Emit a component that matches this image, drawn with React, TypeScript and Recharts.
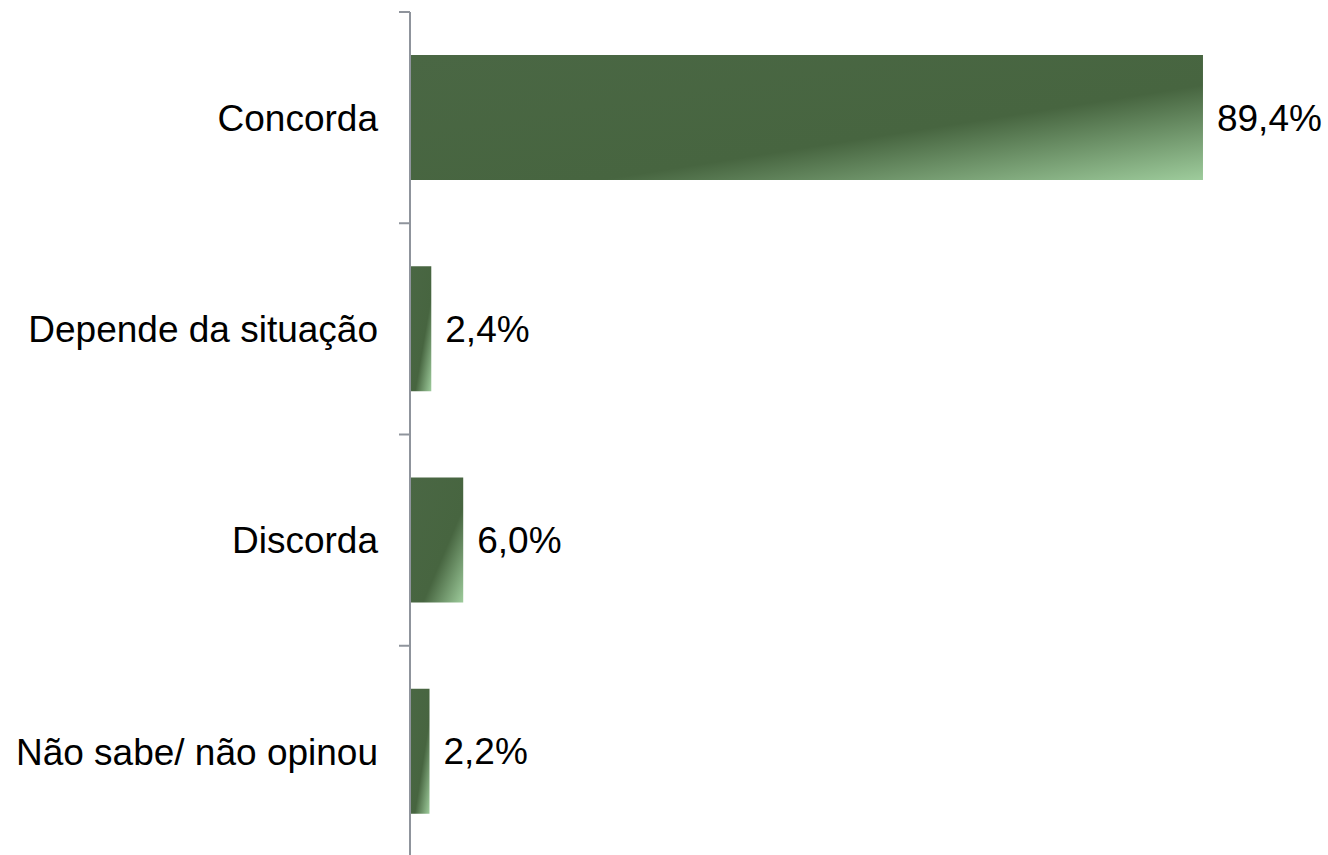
import { BarChart, Bar, XAxis, YAxis, LabelList } from 'recharts'

const categorias = ['Concorda', 'Depende da situação', 'Discorda', 'Não sabe/ não opinou']
const percentuais = [89.4, 2.4, 6.0, 2.2]
const limites = [0, 1, 2, 3, 4]

const data = categorias.map((nome, i) => ({ nome, valor: percentuais[i] }))

const fonte = '"Liberation Sans", Arial, sans-serif'
const eixo = '#8f949c'

const formatar = (v: number) => `${v.toFixed(1).replace('.', ',')}%`

export default function App() {
  return (
    <div style={{ position: 'fixed', top: 0, left: 0, width: 1328, height: 855, overflow: 'hidden', background: '#fff' }}>
      <BarChart
        width={1328}
        height={870}
        data={data}
        layout="vertical"
        margin={{ top: 12, right: 31, bottom: 13, left: 0 }}
        barCategoryGap="20.4%"
      >
        <defs>
          <linearGradient id="gradVerde" x1="0" y1="0" x2="1" y2="1">
            <stop offset="0%" stopColor="#4a6744" />
            <stop offset="62%" stopColor="#476540" />
            <stop offset="100%" stopColor="#9ecc9c" />
          </linearGradient>
        </defs>
        <XAxis type="number" domain={[0, 100]} hide />
        {/* eixo auxiliar só para a linha e os traços entre categorias */}
        <YAxis
          yAxisId="a"
          type="number"
          dataKey="valor"
          domain={[0, 4]}
          ticks={limites}
          interval={0}
          allowDataOverflow
          width={1}
          tickFormatter={() => ''}
          tickSize={11}
          axisLine={{ stroke: eixo, strokeWidth: 2 }}
          tickLine={{ stroke: eixo, strokeWidth: 2 }}
        />
        <YAxis
          yAxisId="z"
          type="category"
          dataKey="nome"
          width={409}
          axisLine={false}
          tickLine={false}
          tickSize={11}
          tickMargin={20}
          tick={{ fill: '#000', fontSize: 37, fontFamily: fonte }}
        />
        <Bar yAxisId="z" dataKey="valor" fill="url(#gradVerde)" isAnimationActive={false}>
          <LabelList
            dataKey="valor"
            position="right"
            offset={14}
            formatter={(v: any) => formatar(Number(v))}
            style={{ fill: '#000', fontSize: 37, fontFamily: fonte }}
          />
        </Bar>
      </BarChart>
    </div>
  )
}
